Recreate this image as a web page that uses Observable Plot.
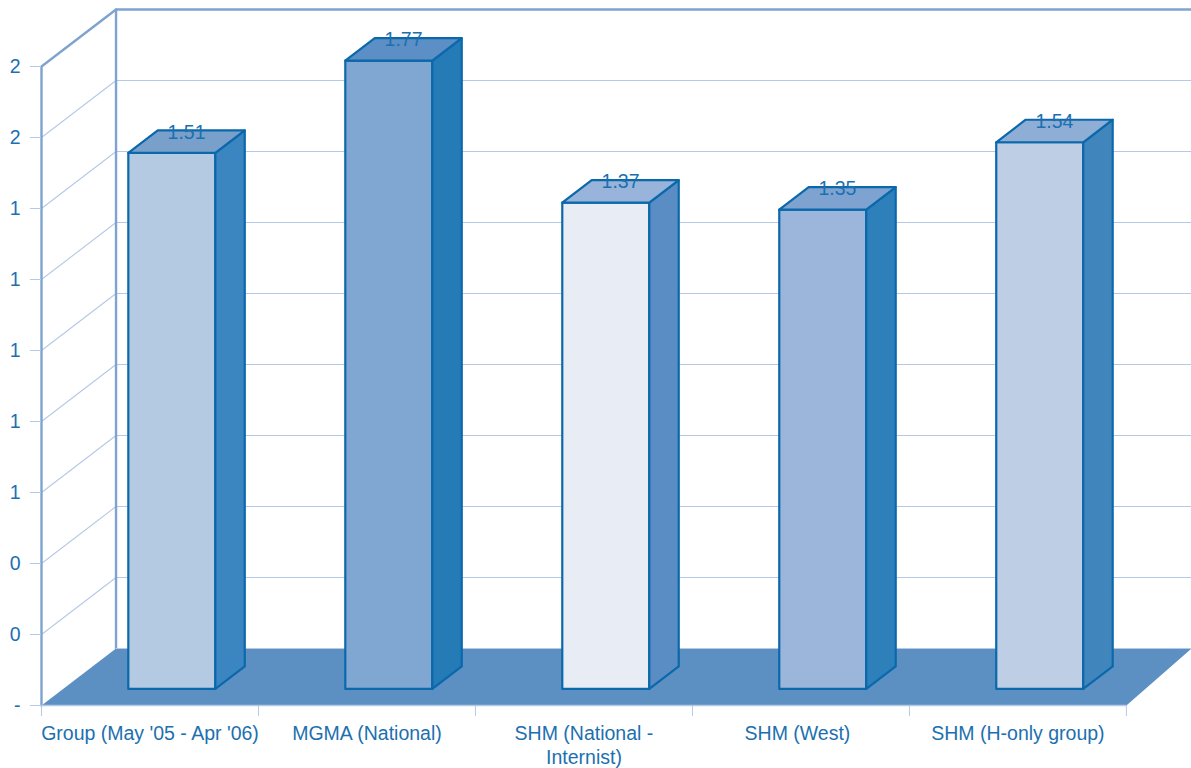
<!DOCTYPE html>
<html>
<head>
<meta charset="utf-8">
<script src="https://cdn.jsdelivr.net/npm/d3@7"></script>
<script src="https://cdn.jsdelivr.net/npm/@observablehq/plot@0.6"></script>
<style>
  html, body { margin: 0; padding: 0; background: #fff; }
</style>
</head>
<body>
<div id="chart"></div>
<script>
// Chart data
const categories = ["Group (May '05 - Apr '06)", "MGMA (National)", "SHM (National -\nInternist)", "SHM (West)", "SHM (H-only group)"];
const values = [1.51, 1.77, 1.37, 1.35, 1.54];
const yTicks = [0, 0.2, 0.4, 0.6, 0.8, 1, 1.2, 1.4, 1.6, 1.8];
const xTicks = [0, 1, 2, 3, 4, 5];

// Fill colours of each bar's three visible faces
const frontFill = ["#b4c9e2", "#80a6d2", "#e8ecf5", "#9bb6da", "#bdcee5"];
const sideFill = ["#3b86c0", "#257bb6", "#5a8dc3", "#2e80bb", "#4086bd"];
const topFill = ["#78a0cb", "#5b8fc5", "#98b4da", "#7fa3d0", "#8eaed6"];

const textColor = "#1c70b0";
const gridColor = "#b5c9e6";
const wallColor = "#7ea3d0";
const barStroke = "#0a68ab";
const floorColor = "#5c90c3";

// Oblique projection: depth 0 is the front plane, depth 1 the back wall
const depthX = 0.3435, depthY = 0.1606;
const xEnd = 5.3, yMax = 1.8;
const project = (cat, value, depth) => ({x: cat + depth * depthX, y: value + depth * depthY});

const barStart = 0.3005, barWidth = 0.401, barNear = 0.29, barFar = 0.685;

function face(i, fill, corners) {
  const pts = corners.map(([c, v, d]) => ({...project(c, v, d), i, fill}));
  return [...pts, pts[0]];
}

const fronts = [], sides = [], tops = [];
values.forEach((v, i) => {
  const a = i + barStart, b = a + barWidth;
  fronts.push(...face(i, frontFill[i], [[a, 0, barNear], [b, 0, barNear], [b, v, barNear], [a, v, barNear]]));
  sides.push(...face(i, sideFill[i], [[b, 0, barNear], [b, 0, barFar], [b, v, barFar], [b, v, barNear]]));
  tops.push(...face(i, topFill[i], [[a, v, barNear], [b, v, barNear], [b, v, barFar], [a, v, barFar]]));
});

const backEnd = xEnd - depthX;
const gridLines = yTicks.filter(v => v > 0 && v < yMax).flatMap((v, i) => [
  {...project(0, v, 0), i},
  {...project(0, v, 1), i},
  {...project(backEnd, v, 1), i}
]);
const floorBack = [
  {...project(0, 0, 1), i: 0},
  {...project(backEnd, 0, 1), i: 0}
];
const floor = [
  project(0, 0, 0), project(5, 0, 0), project(backEnd, 0, 1), project(0, 0, 1), project(0, 0, 0)
];
const outerWall = [
  project(0, 0, 0), project(0, yMax, 0), project(0, yMax, 1), project(backEnd, yMax, 1)
];
const backEdge = [project(0, 0, 1), project(0, yMax, 1)];
const baseLine = [project(0, 0, 0), project(5, 0, 0)];

const faceMark = data => Plot.line(data, {
  x: "x", y: "y", z: "i", fill: "fill",
  stroke: barStroke, strokeWidth: 2.2, strokeLinejoin: "round"
});

const labels = values.map((v, i) => ({
  ...project(i + barStart + barWidth / 2, v, (barNear + barFar) / 2),
  yBack: v + barFar * depthY,
  text: v.toFixed(2)
}));

const plot = Plot.plot({
  width: 1191,
  height: 768,
  marginLeft: 41,
  marginRight: 0,
  marginTop: 0,
  marginBottom: 63,
  x: {domain: [0, xEnd], range: [41, 1191]},
  y: {domain: [0, 705 / 355], range: [705, 0]},
  style: {fontFamily: "'Liberation Sans', Arial, sans-serif", fontSize: "19.5px", background: "#fff"},
  marks: [
    Plot.line(gridLines, {x: "x", y: "y", z: "i", stroke: gridColor, strokeWidth: 1.1}),
    Plot.line(outerWall, {x: "x", y: "y", stroke: wallColor, strokeWidth: 2.4}),
    Plot.line(backEdge, {x: "x", y: "y", stroke: wallColor, strokeWidth: 2.4}),
    Plot.line(floor, {x: "x", y: "y", fill: floorColor, stroke: "none"}),
    Plot.line(floorBack, {x: "x", y: "y", stroke: gridColor, strokeWidth: 1}),
    Plot.line(baseLine, {x: "x", y: "y", stroke: gridColor, strokeWidth: 1.5}),
    Plot.axisY({
      ticks: yTicks,
      tickFormat: d => d === 0 ? "-" : d3.format(".0f")(d),
      tickSize: 11,
      tickPadding: 10,
      stroke: gridColor,
      fill: textColor,
      fontSize: 19.5,
      label: null
    }),
    Plot.axisX({
      ticks: xTicks,
      tickFormat: () => "",
      tickSize: 11,
      stroke: gridColor,
      label: null
    }),
    Plot.text(categories, {
      // The fourth label sits slightly left of its slot's centre
      x: (d, i) => i + 0.5 - (i === 3 ? 0.016 : 0),
      text: d => d,
      frameAnchor: "bottom",
      lineAnchor: "top",
      dy: 18,
      lineHeight: 1.22,
      fill: textColor,
      fontSize: 19.5
    }),
    faceMark(fronts),
    faceMark(sides),
    faceMark(tops),
    Plot.text(labels, {
      x: "x",
      y: "yBack",
      dy: 2,
      text: "text",
      fill: textColor,
      fontSize: 19.5
    })
  ]
});

document.getElementById("chart").appendChild(plot);
</script>
</body>
</html>
